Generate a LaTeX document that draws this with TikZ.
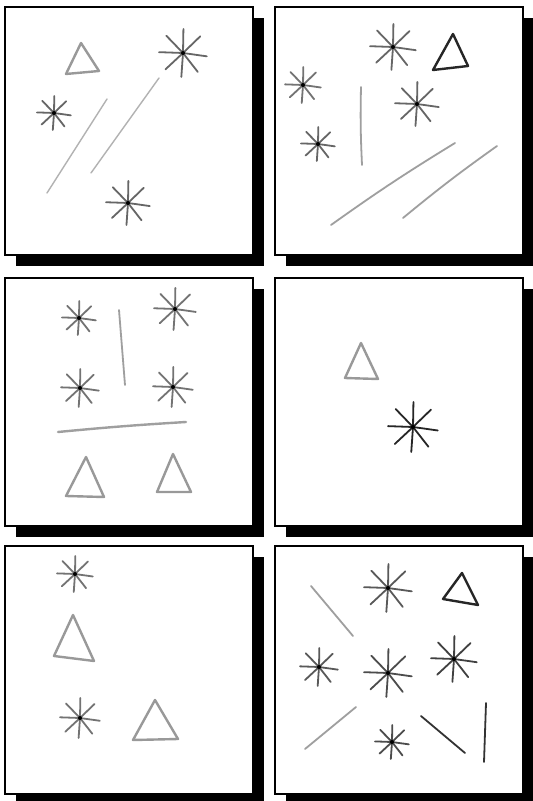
\documentclass[tikz,border=0pt]{standalone}
\begin{document}
\begin{tikzpicture}[x=0.5pt,y=-0.5pt,
  frame/.style={draw=black,fill=white,line width=1pt},
  sketch/.style={gray!75,line width=0.9pt,line cap=round},
  tri/.style={gray!80,line width=1.2pt,line join=round}]
  \useasboundingbox (0,0) rectangle (533,801);
  % six panels with drop shadows
  \foreach \px/\py in {5/7,275/7,5/278,275/278,5/546,275/546} {
    \fill[black] (\px+11,\py+11) rectangle ++(248,248);
    \draw[frame] (\px,\py) rectangle ++(248,248);
  }
  % asterisks
  \foreach \sx/\sy/\r/\c in {183/53/24/60,54/113/17/60,128/203/22/60,
      393/47/23/60,303/85/18/55,417/104/22/60,318/144/17/60,
      79/318/17/55,175/309/21/55,80/388/19/55,173/387/20/55,
      413/427/25/85,
      75/574/18/55,80/718/20/55,
      388/588/24/65,319/667/19/65,388/673/24/70,454/659/23/75,392/742/17/70} {
    \foreach \a in {8,52,94,137,182,226,271,316}
      \draw[sketch,draw=black!\c] (\sx,\sy) -- ++(\a:\r);
    \fill[black] (\sx,\sy) circle (2);
  }
  % triangles
  \draw[tri] (81,43)--(66,74)--(99,71)--cycle;
  \draw[tri,draw=black!85] (453,34)--(433,70)--(468,66)--cycle;
  \draw[tri] (86,457)--(66,496)--(104,497)--cycle;
  \draw[tri] (173,454)--(157,492)--(191,492)--cycle;
  \draw[tri] (361,343)--(345,378)--(378,379)--cycle;
  \draw[tri] (73,615)--(54,656)--(94,661)--cycle;
  \draw[tri] (155,700)--(133,740)--(178,739)--cycle;
  \draw[tri,draw=black!85] (462,573)--(443,599)--(478,605)--cycle;
  % strokes
  \draw[sketch,gray!60,line width=0.7pt] (47,193)--(107,99);
  \draw[sketch,gray!60,line width=0.7pt] (91,173)--(159,78);
  \draw[sketch] (361,87) to[bend right=2] (362,165);
  \draw[sketch] (331,225) to[bend left=2] (455,143);
  \draw[sketch] (403,218) to[bend left=2] (497,146);
  \draw[sketch] (119,310)--(125,385);
  \draw[sketch,line width=1.2pt] (58,432) to[bend left=1] (186,422);
  \draw[sketch] (311,586)--(353,636);
  \draw[sketch] (305,749)--(356,707);
  \draw[sketch,draw=black!80] (421,716)--(465,753);
  \draw[sketch,draw=black!80] (486,703)--(484,762);
\end{tikzpicture}
\end{document}
